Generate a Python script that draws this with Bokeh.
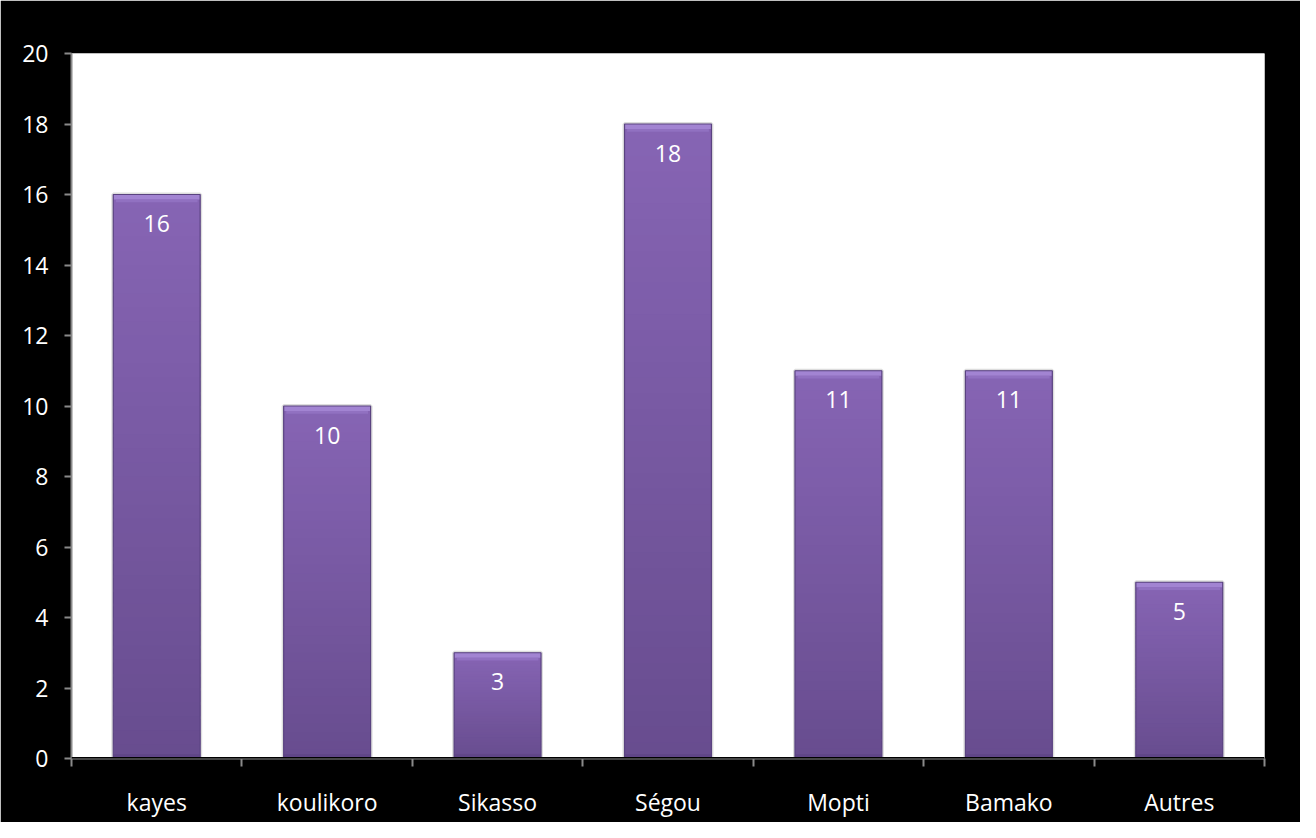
import numpy as np
from bokeh.plotting import figure
from bokeh.models import FixedTicker, Range1d, Span, ColumnDataSource
from bokeh.core.properties import value
from bokeh.embed import file_html
from bokeh.resources import INLINE

categories = ["kayes", "koulikoro", "Sikasso", "Ségou", "Mopti", "Bamako", "Autres"]
values = [16, 10, 3, 18, 11, 11, 5]
y_ticks = [0, 2, 4, 6, 8, 10, 12, 14, 16, 18, 20]

FONT = "Open Sans"
FSIZE = "23px"
AXIS_GREY = "#8a8a8a"
BAR_W = 0.51

n = len(categories)
centers = np.arange(n) + 0.5
boundaries = list(np.arange(n + 1).astype(float))

p = figure(width=1300, height=822, output_backend="svg", toolbar_location=None,
           x_range=Range1d(0, n), y_range=Range1d(0, 20),
           min_border_left=71, min_border_right=36, min_border_top=53, min_border_bottom=64)
p.background_fill_color = "white"
p.border_fill_color = "black"
p.outline_line_color = None
p.grid.visible = False

# soft shadow halo behind bars
p.vbar(x=centers, top=values, bottom=0, width=BAR_W, fill_color=None,
       line_color="#cfcfcf", line_width=4, line_alpha=0.7)

# gradient fill: overlapping slices of each bar, dark at bottom, light at top
N = 40
bot_rgb = np.array([104, 77, 143])
top_rgb = np.array([135, 101, 181])
xs, bots, tops, cols = [], [], [], []
for c, v in zip(centers, values):
    for i in range(N):
        t = (i + 0.5) / N
        rgb = (bot_rgb + (top_rgb - bot_rgb) * t).astype(int)
        xs.append(c)
        bots.append(v * i / N)
        tops.append(min(v, v * (i + 1.8) / N))
        cols.append("#%02x%02x%02x" % tuple(rgb))
p.vbar(x=xs, bottom=bots, top=tops, width=BAR_W, fill_color=cols, line_color=None)

# bevel highlights
vals = np.array(values, dtype=float)
p.vbar(x=centers, top=vals, bottom=vals - 0.14, width=BAR_W, fill_color="#a284d2",
       line_color=None)
p.vbar(x=centers, top=vals - 0.14, bottom=vals - 0.22, width=BAR_W * 0.94,
       fill_color="#9474c4", line_color=None, fill_alpha=0.8)
p.vbar(x=centers, top=0.12, bottom=0, width=BAR_W, fill_color="#5e4585",
       line_color=None, fill_alpha=0.8)
# outline edges
p.vbar(x=centers, top=values, bottom=0, width=BAR_W, fill_color=None,
       line_color="#5a4380", line_width=1.2)

# baseline shadow
p.add_layout(Span(location=0, dimension="width", line_color="black", line_width=3))

# value labels
src = ColumnDataSource(dict(x=centers, y=values, t=[str(v) for v in values]))
p.text(x="x", y="y", text="t", source=src, text_color="white",
       text_font=value(FONT), text_font_size=FSIZE, text_align="center",
       text_baseline="middle", y_offset=29)

# y axis
ya = p.yaxis[0]
ya.ticker = FixedTicker(ticks=y_ticks)
ya.axis_line_color = AXIS_GREY
ya.axis_line_width = 2
ya.major_tick_line_color = AXIS_GREY
ya.major_tick_line_width = 2
ya.major_tick_out = 7
ya.major_tick_in = 0
ya.minor_tick_out = 0
ya.minor_tick_in = 0
ya.major_label_text_color = "white"
ya.major_label_text_font = FONT
ya.major_label_text_font_size = FSIZE
ya.major_label_standoff = 16

# x axis: labels at centers, tick marks at category boundaries
xa = p.xaxis[0]
xa.ticker = FixedTicker(ticks=list(centers), minor_ticks=boundaries)
xa.major_label_overrides = {float(c): name for c, name in zip(centers, categories)}
xa.axis_line_color = AXIS_GREY
xa.axis_line_width = 2
xa.major_tick_out = 0
xa.major_tick_in = 0
xa.minor_tick_line_color = AXIS_GREY
xa.minor_tick_line_width = 2
xa.minor_tick_out = 8
xa.minor_tick_in = 0
xa.major_label_text_color = "white"
xa.major_label_text_font = FONT
xa.major_label_text_font_size = FSIZE
xa.major_label_standoff = 19

open("out.html", "w").write(file_html(p, INLINE))
